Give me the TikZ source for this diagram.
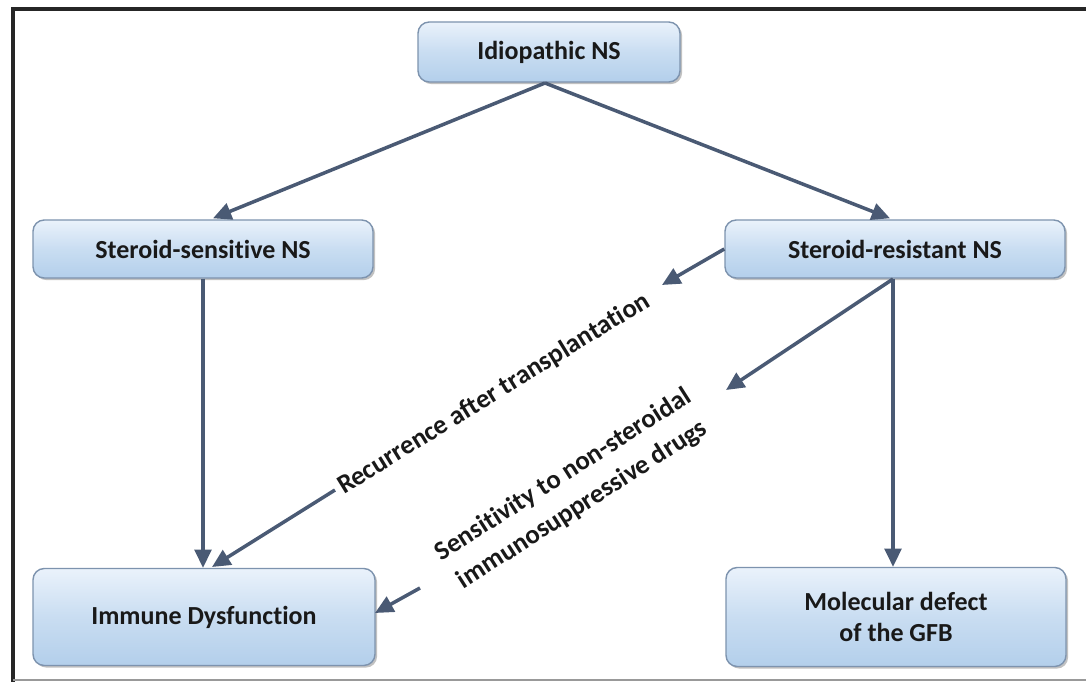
\documentclass[tikz,border=0pt]{standalone}
\usepackage{fontspec}
\setmainfont{Carlito}[Ligatures=NoCommon]
\usetikzlibrary{arrows.meta,shadows,calc}
\definecolor{arrcol}{HTML}{4A5A74}
\definecolor{boxtop}{HTML}{EAF2FB}
\definecolor{boxbot}{HTML}{B3CFEB}
\definecolor{boxline}{HTML}{7D93AE}
\tikzset{
  box/.style={draw=boxline, line width=1pt, rounded corners=8pt,
    top color=boxtop, bottom color=boxbot, middle color=boxbot!60!boxtop,
    drop shadow={shadow xshift=1.5pt, shadow yshift=-1.5pt, opacity=0.35, fill=black!70},
    font=\fontsize{18.5}{21.5}\selectfont\bfseries, text=black!90, align=center,
    inner sep=0pt},
  arr/.style={draw=arrcol, line width=2.5pt, -{Triangle[length=13pt,width=12pt]}},
  lab/.style={font=\fontsize{19}{25}\selectfont\bfseries, text=black!90, align=center, inner sep=1pt}
}
\begin{document}
\begin{tikzpicture}[x=0.025cm,y=-0.025cm]
\useasboundingbox (0,0) rectangle (1086,682);
% frame
\draw[black!85, line width=2.2pt] (13,682) -- (13,9) -- (1086,9);
\draw[black!40, line width=0.8pt] (13,680) -- (1086,680);
% nodes
\node[box, minimum width=262*0.025cm, minimum height=60*0.025cm] (id) at (549,52) {Idiopathic NS};
\node[box, minimum width=340*0.025cm, minimum height=58*0.025cm] (ss) at (203,249) {Steroid-sensitive NS};
\node[box, minimum width=340*0.025cm, minimum height=58*0.025cm] (sr) at (895,249) {Steroid-resistant NS};
\node[box, minimum width=342*0.025cm, minimum height=97*0.025cm] (imm) at (204,617) {Immune Dysfunction};
\node[box, minimum width=340*0.025cm, minimum height=99*0.025cm] (mol) at (896,617) {Molecular defect\\of the GFB};
% helper coordinates
\coordinate (idb) at (545,83);
\coordinate (r1) at (662,285);
\coordinate (r2) at (335,490);
\coordinate (rend) at (212,567);
\coordinate (s1) at (726,390);
\coordinate (s2) at (420,588);
\coordinate (send) at (375,613);
\coordinate (srb) at (893,279);
% connectors
\draw[arr] (idb) -- ($(ss.north)+(10,-1)$);
\draw[arr] (idb) -- ($(sr.north)+(-5,-1)$);
\draw[arr] (ss.south) -- (imm.north -| ss.south);
\draw[arr] (sr.west) -- (r1);
\draw[arr] (r2) -- (rend);
\draw[arr] (srb) -- (s1);
\draw[arr] (s2) -- (send);
\draw[arr] (srb) -- (mol.north -| srb);
% labels
\node[lab, rotate=31.6] (lr) at (494,394) {Recurrence after transplantation};
\node[lab, rotate=32.6] (ls) at (573,490) {Sensitivity to non-steroidal\\immunosuppressive drugs};
\end{tikzpicture}
\end{document}
